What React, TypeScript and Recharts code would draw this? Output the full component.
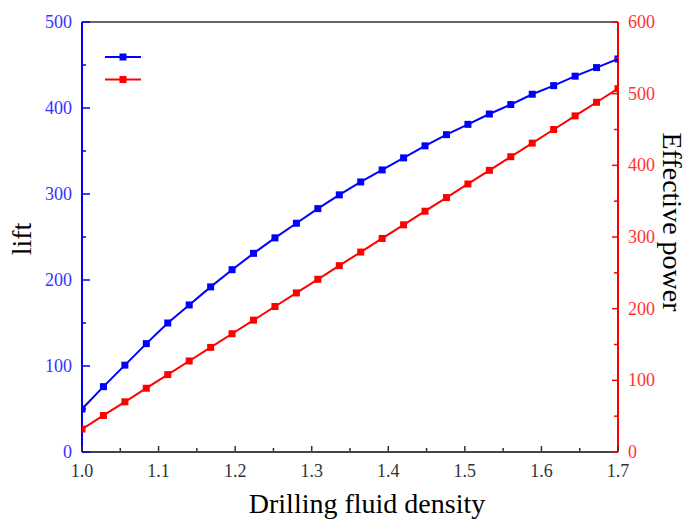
import React from 'react';
import { LineChart, Line, XAxis, YAxis, ReferenceLine, Legend } from 'recharts';

const densities = [1.0, 1.028, 1.056, 1.084, 1.112, 1.14, 1.168, 1.196, 1.224, 1.252, 1.28, 1.308, 1.336, 1.364, 1.392, 1.42, 1.448, 1.476, 1.504, 1.532, 1.56, 1.588, 1.616, 1.644, 1.672, 1.7];
const liftValues = [50, 76, 101, 126, 150, 171, 192, 212, 231, 249, 266, 283, 299, 314, 328, 342, 356, 369, 381, 393, 404, 416, 426, 437, 447, 457];
const powerValues = [32, 51, 70, 89, 108, 127, 146, 165, 184, 203, 222, 241, 260, 279, 298, 317, 336, 355, 374, 393, 412, 431, 450, 469, 488, 507];

const xTicks = [1.0, 1.05, 1.1, 1.15, 1.2, 1.25, 1.3, 1.35, 1.4, 1.45, 1.5, 1.55, 1.6, 1.65, 1.7];
const leftTicks = [0, 50, 100, 150, 200, 250, 300, 350, 400, 450, 500];
const rightTicks = [0, 50, 100, 150, 200, 250, 300, 350, 400, 450, 500, 550, 600];

const data = densities.map((d, i) => ({ d, lift: liftValues[i], power: powerValues[i] }));

const FONT = '"Liberation Serif", "Times New Roman", serif';
const BLUE = '#0000FF';
const RED = '#FF0000';

const Square = (color: string) => (props: any) => {
  const { cx, cy, index } = props;
  if (cx == null || cy == null) return <g key={index} />;
  return <rect key={index} x={cx - 3.5} y={cy - 3.5} width={7} height={7} fill={color} />;
};

const BottomTick = (props: any) => {
  const { x, y, payload } = props;
  const v = payload.value;
  const major = Math.round(v * 100) % 10 === 0;
  return (
    <g>
      <line x1={x} x2={x} y1={y - 1} y2={y - (major ? 6 : 4)} stroke="#333" strokeWidth={1.5} />
      {major && (
        <text x={x} y={y + 25} textAnchor="middle" fontFamily={FONT} fontSize={18} fill="#333">
          {v.toFixed(1)}
        </text>
      )}
    </g>
  );
};

const LeftTick = (props: any) => {
  const { x, y, payload } = props;
  const v = payload.value;
  const major = v % 100 === 0;
  return (
    <g>
      <line x1={x} x2={x + (major ? 8 : 4)} y1={y} y2={y} stroke={BLUE} strokeWidth={1.5} />
      {major && (
        <text x={x - 10} y={y + 6} textAnchor="end" fontFamily={FONT} fontSize={18} fill="#3333FF">
          {v}
        </text>
      )}
    </g>
  );
};

const RightTick = (props: any) => {
  const { x, y, payload } = props;
  const v = payload.value;
  const major = v % 100 === 0;
  return (
    <g>
      <line x1={x} x2={x - (major ? 6 : 4)} y1={y} y2={y} stroke={RED} strokeWidth={1.5} />
      {major && (
        <text x={x + 10} y={y + 6} textAnchor="start" fontFamily={FONT} fontSize={18} fill="#FF3333">
          {v}
        </text>
      )}
    </g>
  );
};

const LegendContent = () => (
  <svg width={40} height={30} style={{ display: 'block' }}>
    <line x1={0} y1={4} x2={36} y2={4} stroke={BLUE} strokeWidth={2} />
    <rect x={14.5} y={0.5} width={7} height={7} fill={BLUE} />
    <line x1={0} y1={26.5} x2={36} y2={26.5} stroke={RED} strokeWidth={2} />
    <rect x={14.5} y={23} width={7} height={7} fill={RED} />
  </svg>
);

export default function App() {
  return (
    <LineChart width={676} height={513} data={data} margin={{ top: 14, right: 0, bottom: 0, left: 0 }}>
      <XAxis
        dataKey="d"
        type="number"
        domain={[1.0, 1.7]}
        ticks={xTicks}
        interval={0}
        height={69}
        tickSize={0}
        tickMargin={0}
        tickLine={false}
        axisLine={{ stroke: '#444', strokeWidth: 2 }}
        tick={<BottomTick />}
        allowDataOverflow
        label={{
          value: 'Drilling fluid density',
          content: () => (
            <text x={359} y={505} textAnchor="middle" fontFamily={FONT} fontSize={28} fill="#000">
              Drilling fluid density
            </text>
          ),
        }}
      />
      <YAxis
        yAxisId="left"
        orientation="left"
        domain={[0, 500]}
        ticks={leftTicks}
        interval={0}
        width={74}
        tickSize={0}
        tickMargin={0}
        tickLine={false}
        axisLine={{ stroke: BLUE, strokeWidth: 2 }}
        tick={<LeftTick />}
        label={{
          value: 'lift',
          content: () => (
            <text x={23} y={231} transform="rotate(-90 23 231)" textAnchor="middle" fontFamily={FONT} fontSize={28} fill="#000">
              lift
            </text>
          ),
        }}
      />
      <YAxis
        yAxisId="right"
        orientation="right"
        domain={[0, 600]}
        ticks={rightTicks}
        interval={0}
        width={66}
        tickSize={0}
        tickMargin={0}
        tickLine={false}
        axisLine={{ stroke: RED, strokeWidth: 2 }}
        tick={<RightTick />}
        label={{
          value: 'Effective power',
          content: () => (
            <text x={655} y={214} transform="rotate(90 655 214)" textAnchor="middle" fontFamily={FONT} fontSize={28} fill="#000">
              Effective power
            </text>
          ),
        }}
      />
      <ReferenceLine yAxisId="left" y={500} stroke="#666" strokeWidth={2} />
      <Legend
        layout="vertical"
        align="center"
        verticalAlign="middle"
        content={<LegendContent />}
        wrapperStyle={{ position: 'absolute', left: 97, top: 45, width: 40, height: 30 }}
      />
      <Line
        yAxisId="left"
        dataKey="lift"
        stroke={BLUE}
        strokeWidth={2}
        dot={Square(BLUE)}
        isAnimationActive={false}
        legendType="none"
      />
      <Line
        yAxisId="right"
        dataKey="power"
        stroke={RED}
        strokeWidth={2}
        dot={Square(RED)}
        isAnimationActive={false}
        legendType="none"
      />
    </LineChart>
  );
}
